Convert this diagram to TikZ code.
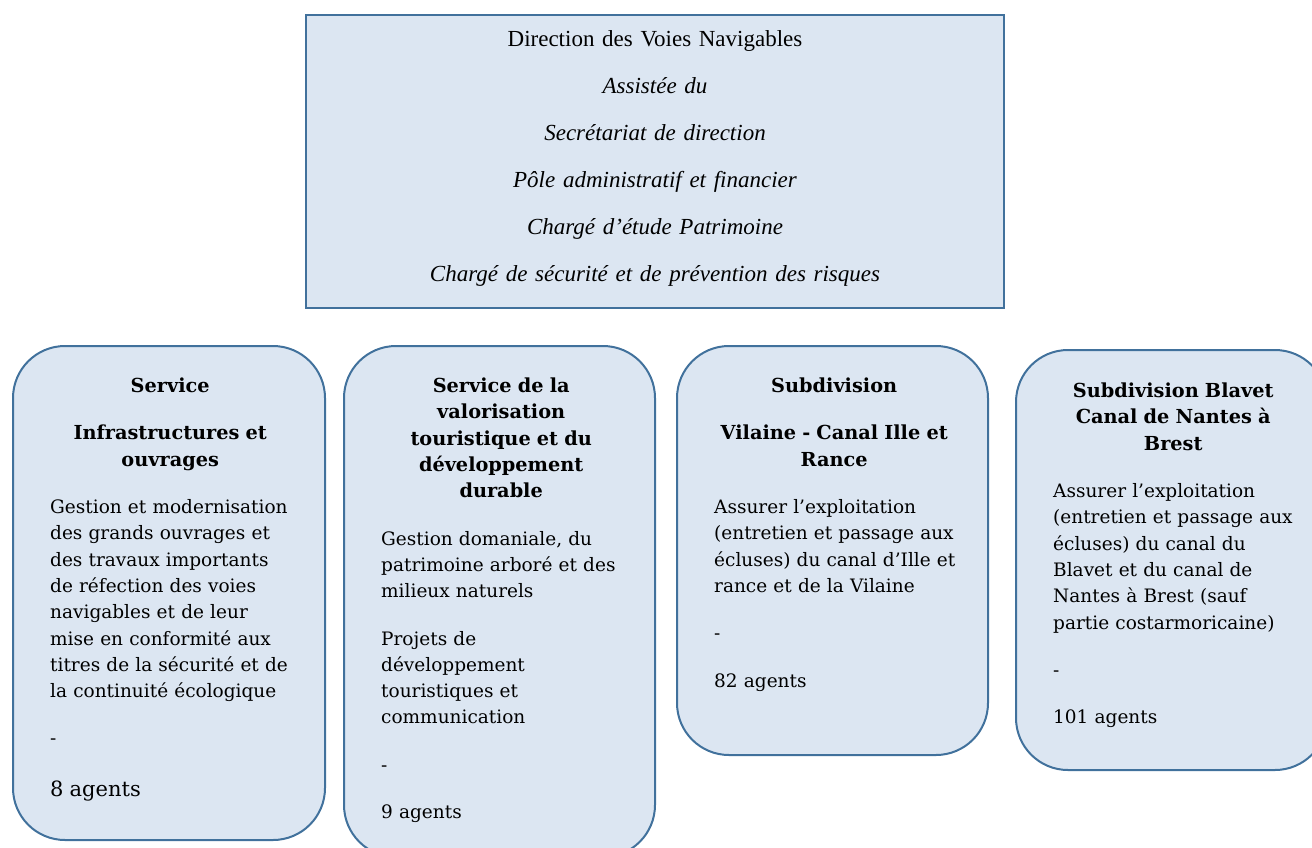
\documentclass[tikz,border=0pt]{standalone}
\usepackage{fontspec}
\setmainfont{DejaVu Serif}
\newfontfamily\dirfont{Liberation Serif}
\definecolor{edgeblue}{HTML}{41719C}
\definecolor{fillblue}{HTML}{DCE6F2}
\tikzset{
  topbox/.style={draw=edgeblue, fill=fillblue, line width=2pt, inner sep=0pt},
  rbox/.style={draw=edgeblue, fill=fillblue, line width=2pt, rounded corners=52pt, inner sep=0pt},
  txt/.style={anchor=north west, inner sep=0pt, text width=270pt, align=left,
    font=\fontsize{18.5}{26.3}\selectfont},
  dirtxt/.style={anchor=north, inner sep=0pt, text width=680pt, align=center,
    font=\dirfont\fontsize{23}{47}\selectfont}
}
\newcommand{\hd}[1]{{\centering\rightskip=30pt plus 1fil\fontsize{19.3}{26.3}\selectfont\bfseries #1\par}}
\newcommand{\setpar}{\setlength{\parskip}{21pt}\setlength{\parindent}{0pt}}
\begin{document}
\begin{tikzpicture}[x=1pt,y=-1pt]
\useasboundingbox (0,0) rectangle (1312,847);
\clip (0,0) rectangle (1312,847);
% top box
\node[topbox, minimum width=698pt, minimum height=293pt] (dir) at (655,161.5) {};
\node[dirtxt] (dirt) at (655,13) {\strut Direction des Voies Navigables\\
\itshape Assistée du\\
\itshape Secrétariat de direction\\
\itshape Pôle administratif et financier\\
\itshape Chargé d’étude Patrimoine\\
\itshape Chargé de sécurité et de prévention des risques};
% rounded boxes
\node[rbox, minimum width=312pt, minimum height=494pt] (b1) at (169,593) {};
\node[rbox, minimum width=311pt, minimum height=511pt] (b2) at (499.5,601.5) {};
\node[rbox, minimum width=311pt, minimum height=409pt] (b3) at (832.5,550.5) {};
\node[rbox, minimum width=311pt, minimum height=420pt] (b4) at (1171.5,560) {};
% texts
\node[txt] (t1) at (50,374) {\setpar
\hd{\strut Service}
\hd{Infrastructures et\\ ouvrages}
Gestion et modernisation\\
des grands ouvrages et\\
des travaux importants\\
de réfection des voies\\
navigables et de leur\\
mise en conformité aux\\
titres de la sécurité et de\\
la continuité écologique\par
-\par
{\fontsize{21}{31}\selectfont 8 agents\par}};
\node[txt] (t2) at (381,374) {\setpar
\hd{\strut Service de la\\ valorisation\\ touristique et du\\ développement\\ durable}
Gestion domaniale, du\\
patrimoine arboré et des\\
milieux naturels\par
Projets de\\
développement\\
touristiques et\\
communication\par
-\par
9 agents\par};
\node[txt] (t3) at (714,374) {\setpar
\hd{\strut Subdivision}
\hd{Vilaine - Canal Ille et\\ Rance}
Assurer l’exploitation\\
(entretien et passage aux\\
écluses) du canal d’Ille et\\
rance et de la Vilaine\par
-\par
82 agents\par};
\node[txt] (t4) at (1053,379) {\setpar
\hd{\strut Subdivision Blavet\\ Canal de Nantes à\\ Brest}
Assurer l’exploitation\\
(entretien et passage aux\\
écluses) du canal du\\
Blavet et du canal de\\
Nantes à Brest (sauf\\
partie costarmoricaine)\par
-\par
101 agents\par};
\end{tikzpicture}
\end{document}
